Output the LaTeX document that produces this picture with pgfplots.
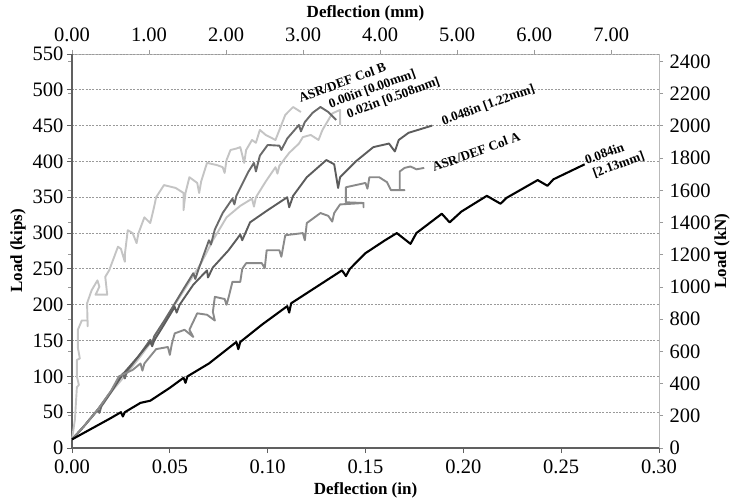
\documentclass[border=0pt]{standalone}
\usepackage{fontspec}
\setmainfont{Liberation Serif}
\usepackage{pgfplots}
\pgfplotsset{compat=1.18}

\definecolor{lightc}{HTML}{C4C4C4}
\definecolor{darkc}{HTML}{6A6A6A}
\definecolor{midc}{HTML}{5C5C5C}
\definecolor{colA}{HTML}{8A8A8A}
\definecolor{gridc}{HTML}{9A9A9A}

\pgfplotsset{
  every tick label/.append style={font=\fontsize{20.5}{22}\selectfont},
  label style={font=\fontsize{17}{19}\selectfont\bfseries},
  /pgf/number format/assume math mode=true,
}

\newcommand{\curvelabel}{\fontsize{13.2}{15}\selectfont\bfseries}

\begin{document}
\begin{tikzpicture}
% secondary scales: millimetres on top, kilonewtons on the right
\begin{axis}[
  name=si,
  scale only axis, width=587pt, height=394pt,
  at={(0,0)}, anchor=south west,
  xmin=0, xmax=7.62, ymin=0, ymax=2446.4,
  xtick={0,1,2,3,4,5,6,7},
  ytick={0,200,400,600,800,1000,1200,1400,1600,1800,2000,2200,2400},
  xtick pos=right, xticklabel pos=right,
  ytick pos=both, yticklabel pos=right,
  xticklabel style={yshift=5pt, /pgf/number format/.cd, fixed, fixed zerofill, precision=2},
  yticklabel style={xshift=3pt, /pgf/number format/1000 sep={}},
  tick align=outside, major tick length=4pt,
  tick style={color=gray!80, line width=0.8pt},
  axis line style={color=gray!55, line width=0.9pt},
  xlabel={Deflection (mm)}, ylabel={Load (kN)},
  ylabel style={yshift=3pt},
]
\end{axis}
% primary scales: inches and kips
\begin{axis}[
  name=main,
  scale only axis, width=587pt, height=394pt,
  at={(0,0)}, anchor=south west,
  xmin=0, xmax=0.3, ymin=0, ymax=550,
  xtick={0,0.05,0.1,0.15,0.2,0.25,0.3},
  ytick={0,50,100,150,200,250,300,350,400,450,500,550},
  axis x line*=bottom, axis y line*=left,
  axis line style={-, color=gray!75!black, line width=1.4pt},
  xticklabel style={yshift=-3pt, /pgf/number format/.cd, fixed, fixed zerofill, precision=2},
  tick align=outside, major tick length=5pt,
  tick style={color=gray!75!black, line width=0.9pt},
  ymajorgrids,
  grid style={color=gridc, line width=0.9pt, dash pattern=on 2pt off 1.4pt},
  xlabel={Deflection (in)}, ylabel={Load (kips)},
  xlabel style={yshift=-2pt},
  clip=false,
  every axis plot/.append style={line width=1.9pt, line join=round, mark=none},
]
% ASR/DEF Col B
\addplot[lightc] coordinates {
(0,12) (0.0015,40) (0.0025,85) (0.0035,88) (0.0025,100) (0.0025,123) (0.004,125)
(0.003,140) (0.003,165) (0.005,178) (0.008,178) (0.008,170) (0.0077,202) (0.010,220)
(0.013,234) (0.014,225) (0.012,214) (0.018,214) (0.017,239) (0.019,248) (0.0235,281)
(0.025,278) (0.027,260) (0.027,270) (0.0285,304) (0.031,300) (0.033,286) (0.034,300)
(0.037,322) (0.040,314) (0.042,337) (0.043,350) (0.047,367) (0.053,363) (0.057,356)
(0.057,332) (0.058,356) (0.060,378) (0.064,370) (0.065,356) (0.066,372) (0.069,398)
(0.074,395) (0.077,392) (0.078,384) (0.079,402) (0.081,416) (0.084,418) (0.086,420)
(0.088,398) (0.089,416) (0.092,430) (0.094,426) (0.096,444) (0.099,437) (0.104,430)
(0.109,465) (0.113,476) (0.117,469)
};
% 0.02 in
\addplot[lightc] coordinates {
(0,12) (0.006,30) (0.013,52) (0.020,78) (0.028,104) (0.035,128) (0.041,150)
(0.047,175) (0.053,202) (0.060,232) (0.066,258) (0.072,290) (0.079,322) (0.086,338)
(0.092,348) (0.093,337) (0.094,350) (0.099,372) (0.104,392) (0.105,383) (0.106,394)
(0.111,412) (0.116,425) (0.118,434) (0.122,437) (0.126,430) (0.128,444) (0.133,467)
(0.137,472) (0.137,451)
};
% 0.00 in
\addplot[darkc] coordinates {
(0,12) (0.006,30) (0.013,53) (0.014,49) (0.015,58) (0.020,78) (0.026,104) (0.027,97)
(0.028,107) (0.034,128) (0.040,151) (0.041,146) (0.042,156) (0.047,177) (0.0515,197)
(0.057,222) (0.062,244) (0.063,236) (0.065,252) (0.070,290) (0.071,284) (0.073,305)
(0.077,328) (0.082,348) (0.083,340) (0.084,352) (0.090,385) (0.093,398) (0.094,386)
(0.096,408) (0.100,423) (0.106,422) (0.107,416) (0.110,432) (0.116,451) (0.117,442)
(0.119,455) (0.123,468) (0.127,476) (0.131,469) (0.135,458)
};
% 0.048 in
\addplot[midc] coordinates {
(0,12) (0.006,30) (0.013,53) (0.020,79) (0.026,103) (0.033,125) (0.040,148)
(0.041,142) (0.042,150) (0.047,172) (0.0525,197) (0.0535,189) (0.055,200) (0.062,228)
(0.069,248) (0.0695,238) (0.072,252) (0.080,276) (0.086,298) (0.087,290) (0.091,315)
(0.100,332) (0.110,350) (0.111,336) (0.113,352) (0.120,378) (0.130,402) (0.134,396)
(0.136,363) (0.137,378) (0.145,400) (0.154,420) (0.162,425) (0.165,414) (0.167,430)
(0.172,440) (0.184,450)
};
% ASR/DEF Col A
\addplot[colA] coordinates {
(0,12) (0.006,30) (0.013,53) (0.020,80) (0.024,100) (0.027,104) (0.031,109)
(0.035,118) (0.036,108) (0.037,118) (0.043,138) (0.049,141) (0.050,130) (0.051,145)
(0.0525,160) (0.0575,165) (0.062,155) (0.060,165) (0.064,188) (0.069,186) (0.073,178)
(0.072,190) (0.073,211) (0.078,208) (0.079,200) (0.080,210) (0.082,232) (0.086,232)
(0.087,250) (0.089,258) (0.097,258) (0.0985,251) (0.0995,276) (0.106,276) (0.107,267)
(0.109,297) (0.118,300) (0.119,290) (0.120,314) (0.127,328) (0.131,324) (0.133,316)
(0.134,328) (0.137,340) (0.149,342) (0.149,336) (0.149,342) (0.140,343) (0.140,364)
(0.150,370) (0.151,362) (0.152,378) (0.157,378) (0.161,371) (0.163,360) (0.170,360)
(0.1675,360) (0.1675,386) (0.170,391) (0.173,393) (0.176,389) (0.180,391)
};
% 0.084 in
\addplot[black, line width=2.1pt] coordinates {
(0,12) (0.010,27) (0.020,42) (0.025,50) (0.026,44) (0.027,50) (0.035,63) (0.040,66)
(0.050,84) (0.057,98) (0.058,91) (0.059,100) (0.070,118) (0.084,148) (0.085,138)
(0.086,148) (0.097,172) (0.110,198) (0.111,189) (0.112,202) (0.125,225) (0.138,248)
(0.140,240) (0.142,250) (0.150,272) (0.160,290) (0.166,300) (0.173,285) (0.176,300)
(0.189,327) (0.193,315) (0.199,330) (0.212,352) (0.219,341) (0.222,349) (0.238,374)
(0.243,366) (0.246,375) (0.262,396)
};
% curve labels
\node[rotate=20, anchor=base west, font=\curvelabel, inner sep=1pt] at (axis cs:0.1163,482) {ASR/DEF Col B};
\node[rotate=20, anchor=base west, font=\curvelabel, inner sep=1pt] at (axis cs:0.1316,474) {0.00in [0.00mm]};
\node[rotate=20, anchor=base west, font=\curvelabel, inner sep=1pt] at (axis cs:0.1408,460) {0.02in [0.508mm]};
\node[rotate=20, anchor=base west, font=\curvelabel, inner sep=1pt] at (axis cs:0.1893,450) {0.048in [1.22mm]};
\node[rotate=20, anchor=base west, font=\curvelabel, inner sep=1pt] at (axis cs:0.1845,385) {ASR/DEF Col A};
\node[rotate=20, anchor=base west, font=\curvelabel, inner sep=1pt] at (axis cs:0.2625,395) {0.084in};
\node[rotate=20, anchor=base west, font=\curvelabel, inner sep=1pt] at (axis cs:0.2665,377) {[2.13mm]};
\end{axis}
\pgfresetboundingbox
\path[use as bounding box] ([xshift=-72pt,yshift=-52pt]main.south west) rectangle ([xshift=71pt,yshift=54pt]main.north east);
\end{tikzpicture}
\end{document}
